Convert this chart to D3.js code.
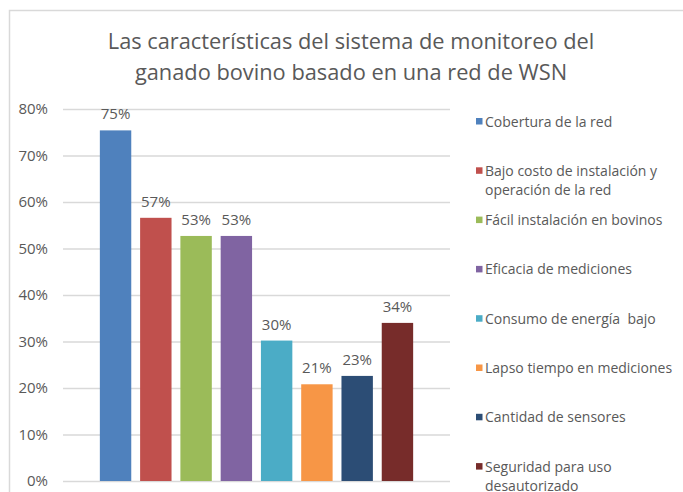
<!DOCTYPE html>
<html>
<head>
<meta charset="utf-8">
<script src="https://cdn.jsdelivr.net/npm/d3@7"></script>
<style>
    body { margin: 0; background: #fff; }
    svg { display: block; font-family: "Open Sans", sans-serif; }
    text { white-space: pre; }
</style>
</head>
<body>
<div id="chart"></div>
<script>
(function() {

    // chart data
    var titleLines = ["Las características del sistema de monitoreo del",
                      "ganado bovino basado en una red de WSN"];
    var categories = ["Cobertura de la red",
                      "Bajo costo de instalación y operación de la red",
                      "Fácil instalación en bovinos",
                      "Eficacia de mediciones",
                      "Consumo de energía  bajo",
                      "Lapso tiempo en mediciones",
                      "Cantidad de sensores",
                      "Seguridad para uso desautorizado"];
    // legend labels are wrapped the way the source shows them
    var legendLines = [["Cobertura de la red"],
                       ["Bajo costo de instalación y", "operación de la red"],
                       ["Fácil instalación en bovinos"],
                       ["Eficacia de mediciones"],
                       ["Consumo de energía  bajo"],
                       ["Lapso tiempo en mediciones"],
                       ["Cantidad de sensores"],
                       ["Seguridad para uso", "desautorizado"]];
    var values = [75.4, 56.6, 52.7, 52.7, 30.2, 20.8, 22.6, 34.0];
    var colors = ["#4f81bd", "#c0504d", "#9bbb59", "#8064a2",
                  "#4bacc6", "#f79646", "#2c4d75", "#772c2a"];
    var yTicks = [0, 10, 20, 30, 40, 50, 60, 70, 80];

    var width = 683,
        height = 492,
        plot = {left: 63, right: 450, top: 109, bottom: 481};

    var svg = d3.select("#chart").append("svg")
        .attr("width", width)
        .attr("height", height);

    // outer frame, cut off on the right and bottom like the screenshot
    svg.append("rect")
        .attr("x", 9.5)
        .attr("y", 10.5)
        .attr("width", 684)
        .attr("height", 500)
        .attr("fill", "#fff")
        .attr("stroke", "#d9d9d9")
        .attr("stroke-width", 1.5);

    svg.append("text")
        .attr("x", 351)
        .attr("y", 49)
        .attr("text-anchor", "middle")
        .attr("fill", "#595959")
        .style("font-size", "21.8px")
        .selectAll("tspan")
        .data(titleLines)
        .enter().append("tspan")
        .attr("x", 351)
        .attr("dy", function(d, i) { return i ? 31 : 0; })
        .text(function(d) { return d; });

    var x = d3.scaleBand()
        .domain(categories)
        .range([plot.left, plot.right])
        .paddingInner(0.22)
        .paddingOuter(0.915);

    var y = d3.scaleLinear()
        .domain([0, 80])
        .range([plot.bottom, plot.top]);

    var yAxis = d3.axisLeft(y)
        .tickValues(yTicks)
        .tickSize(-(plot.right - plot.left))
        .tickPadding(15)
        .tickFormat(function(d) { return d + "%"; });

    var gy = svg.append("g")
        .attr("class", "y axis")
        .attr("transform", "translate(" + plot.left + ",0)")
        .call(yAxis);

    gy.select(".domain").remove();
    gy.selectAll(".tick line")
        .attr("stroke", "#d9d9d9")
        .attr("stroke-width", 1.3);
    gy.selectAll(".tick text")
        .attr("fill", "#595959")
        .style("font-size", "15px")
        .style("font-family", "'Open Sans', sans-serif");

    svg.selectAll(".bar")
        .data(values)
        .enter().append("rect")
        .attr("class", "bar")
        .attr("x", function(d, i) { return x(categories[i]); })
        .attr("y", function(d) { return y(d); })
        .attr("width", x.bandwidth())
        .attr("height", function(d) { return y(0) - y(d); })
        .attr("fill", function(d, i) { return colors[i]; });

    svg.selectAll(".label")
        .data(values)
        .enter().append("text")
        .attr("class", "label")
        .attr("x", function(d, i) { return x(categories[i]) + x.bandwidth() / 2; })
        .attr("y", function(d) { return y(d) - 11; })
        .attr("text-anchor", "middle")
        .attr("fill", "#595959")
        .style("font-size", "15px")
        .text(function(d) { return d3.format(".0f")(d) + "%"; });

    var legend = svg.selectAll(".legend")
        .data(legendLines)
        .enter().append("g")
        .attr("class", "legend")
        .attr("transform", function(d, i) { return "translate(476," + (121.5 + i * 49.3) + ")"; });

    legend.append("rect")
        .attr("x", 0)
        .attr("y", -3.5)
        .attr("width", 6.5)
        .attr("height", 6.5)
        .attr("fill", function(d, i) { return colors[i]; });

    legend.append("text")
        .attr("x", 9)
        .attr("y", 5)
        .attr("fill", "#595959")
        .style("font-size", "14px")
        .selectAll("tspan")
        .data(function(d) { return d; })
        .enter().append("tspan")
        .attr("x", 9)
        .attr("dy", function(d, i) { return i ? 19 : 0; })
        .text(function(d) { return d; });

})();
</script>
</body>
</html>
